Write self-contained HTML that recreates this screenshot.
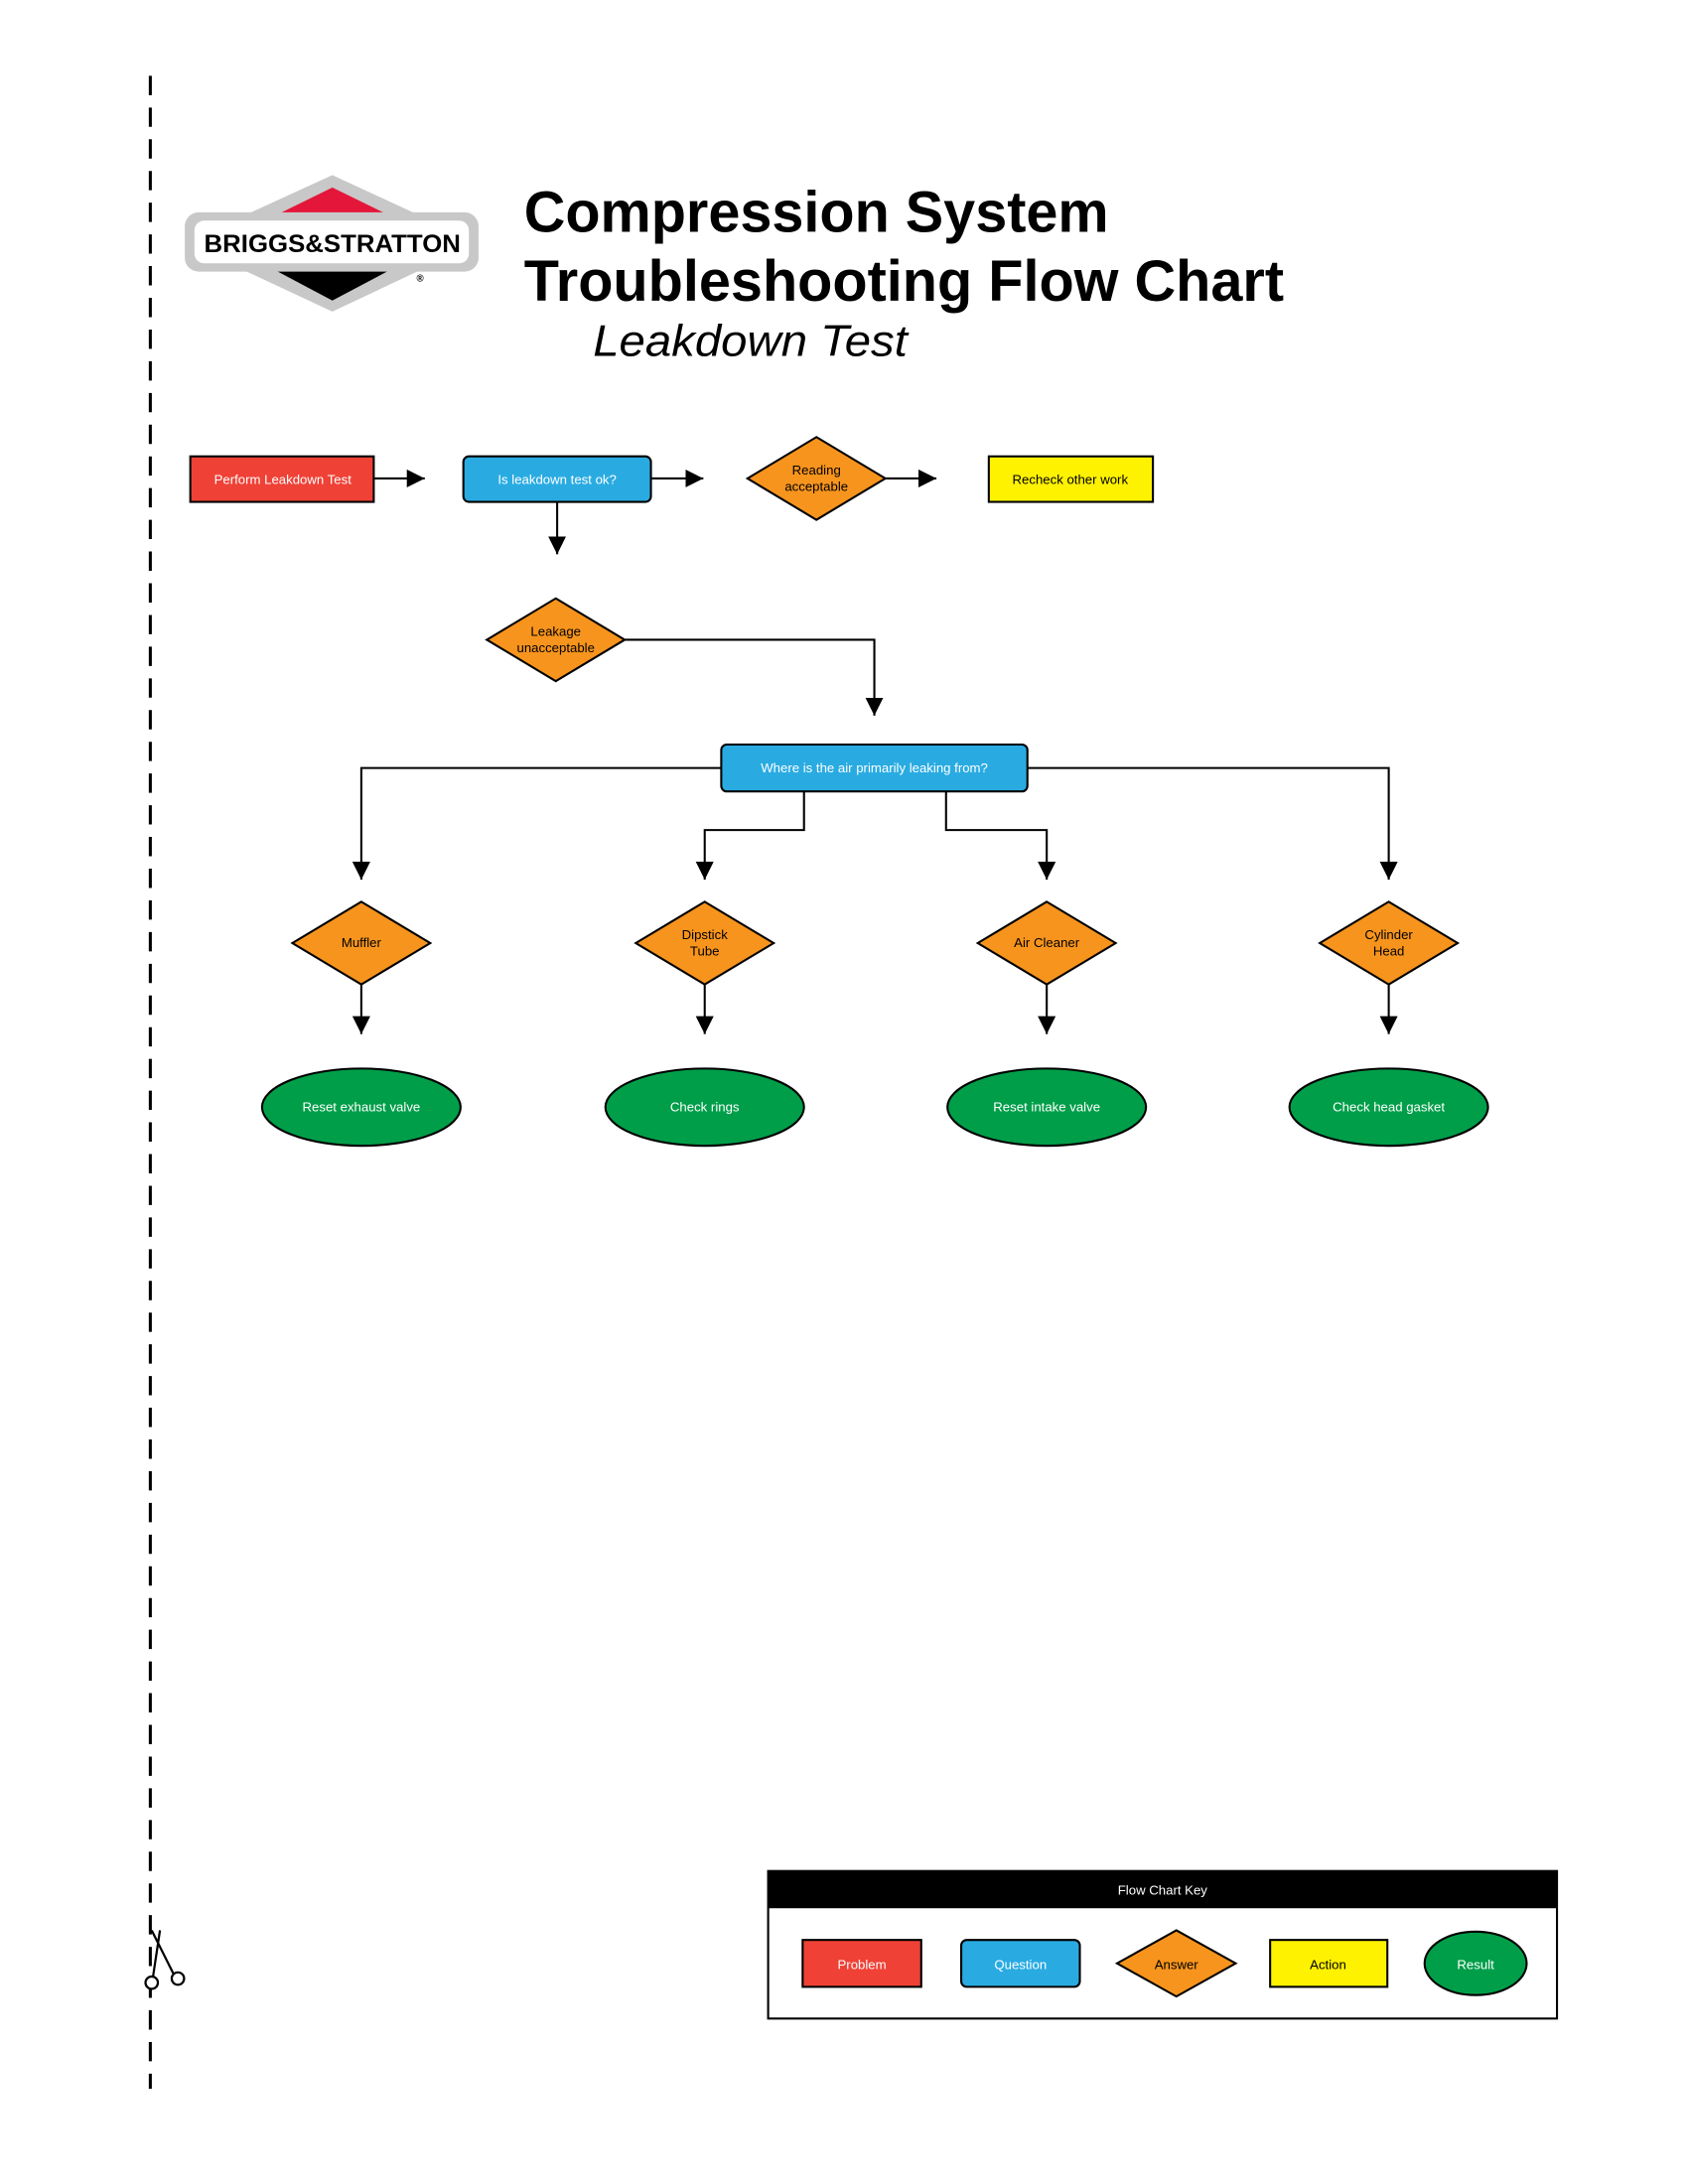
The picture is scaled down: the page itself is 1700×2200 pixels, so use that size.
<!DOCTYPE html>
<html><head><meta charset="utf-8"><style>html,body{margin:0;padding:0;background:#fff}svg{display:block}</style></head>
<body>
<svg width="1700" height="2200" viewBox="0 0 1224 1584" xmlns="http://www.w3.org/2000/svg" font-family="Liberation Sans, sans-serif">
<defs><marker id="a" viewBox="0 0 10 10" refX="10" refY="5" markerWidth="6" markerHeight="6" orient="auto" markerUnits="userSpaceOnUse"><path d="M0,0L10,5L0,10z" fill="#000"/></marker>
<marker id="b" viewBox="0 0 10 10" refX="10" refY="5" markerWidth="13" markerHeight="13" orient="auto" markerUnits="userSpaceOnUse"><path d="M0,0L10,5L0,10z" fill="#000"/></marker></defs>
<line x1="109" y1="55" x2="109" y2="1515" stroke="#000" stroke-width="2.2" stroke-dasharray="14,9"/>
<g transform="translate(120,1420)" stroke="#000" stroke-width="1.6" fill="none"><line x1="-10" y1="-20" x2="6" y2="12"/><line x1="-10" y1="20" x2="-4" y2="-20"/><circle cx="9" cy="15" r="4.5" fill="#fff"/><circle cx="-10" cy="18" r="4.5" fill="#fff"/></g>
<!-- logo -->
<polygon points="241,127 347,176 241,226 134,176" fill="#c8c8c8"/>
<polygon points="241,136 290,160 192,160" fill="#e4163a"/>
<polygon points="241,218 290,192 192,192" fill="#000"/>
<rect x="134" y="154" width="213" height="43" rx="10" fill="#c8c8c8"/>
<rect x="141" y="160" width="199" height="31" rx="7" fill="#fff"/>
<text x="241" y="183" font-size="18" font-weight="bold" text-anchor="middle" textLength="186" lengthAdjust="spacingAndGlyphs">BRIGGS&amp;STRATTON</text>
<text x="302" y="204" font-size="7" font-weight="bold">®</text>
<text x="380" y="168" font-size="42" font-weight="bold" textLength="424" lengthAdjust="spacingAndGlyphs">Compression System</text>
<text x="380" y="218" font-size="42" font-weight="bold" textLength="551" lengthAdjust="spacingAndGlyphs">Troubleshooting Flow Chart</text>
<text x="430" y="258" font-size="32" font-style="italic" textLength="228" lengthAdjust="spacingAndGlyphs">Leakdown Test</text>
<g stroke="#000" stroke-width="1.5" font-size="9.5">
<rect x="138" y="331" width="133" height="33" fill="#ef4136"/>
<rect x="336" y="331" width="136" height="33" rx="4" fill="#29abe2"/>
<polygon points="592,317 642,347 592,377 542,347" fill="#f7941d"/>
<rect x="717" y="331" width="119" height="33" fill="#fff200"/>
<polygon points="403,434 453,464 403,494 353,464" fill="#f7941d"/>
<rect x="523" y="540" width="222" height="34" rx="4" fill="#29abe2"/>
<g fill="none" marker-end="url(#b)">
<line x1="271" y1="347" x2="308" y2="347"/><line x1="472" y1="347" x2="510" y2="347"/><line x1="642" y1="347" x2="679" y2="347"/>
<line x1="404" y1="364" x2="404" y2="402"/>
<polyline points="453,464 634,464 634,519"/>
<polyline points="523,557 262,557 262,638"/>
<polyline points="583,574 583,602 511,602 511,638"/>
<polyline points="686,574 686,602 759,602 759,638"/>
<polyline points="745,557 1007,557 1007,638"/>
<line x1="262" y1="714" x2="262" y2="750"/><line x1="511" y1="714" x2="511" y2="750"/><line x1="759" y1="714" x2="759" y2="750"/><line x1="1007" y1="714" x2="1007" y2="750"/>
</g>
<g fill="#f7941d">
<polygon points="262,654 312,684 262,714 212,684"/><polygon points="511,654 561,684 511,714 461,684"/><polygon points="759,654 809,684 759,714 709,684"/><polygon points="1007,654 1057,684 1007,714 957,684"/>
</g>
<g fill="#009e49">
<ellipse cx="262" cy="803" rx="72" ry="28"/><ellipse cx="511" cy="803" rx="72" ry="28"/><ellipse cx="759" cy="803" rx="72" ry="28"/><ellipse cx="1007" cy="803" rx="72" ry="28"/>
</g>
</g>
<g font-size="9.5" text-anchor="middle">
<text x="205" y="351" fill="#fff">Perform Leakdown Test</text>
<text x="404" y="351" fill="#fff">Is leakdown test ok?</text>
<text x="592" y="344">Reading</text><text x="592" y="356">acceptable</text>
<text x="776" y="351">Recheck other work</text>
<text x="403" y="461">Leakage</text><text x="403" y="473">unacceptable</text>
<text x="634" y="560" fill="#fff">Where is the air primarily leaking from?</text>
<text x="262" y="687">Muffler</text>
<text x="511" y="681">Dipstick</text><text x="511" y="693">Tube</text>
<text x="759" y="687">Air Cleaner</text>
<text x="1007" y="681">Cylinder</text><text x="1007" y="693">Head</text>
<g fill="#fff"><text x="262" y="806">Reset exhaust valve</text><text x="511" y="806">Check rings</text><text x="759" y="806">Reset intake valve</text><text x="1007" y="806">Check head gasket</text></g>
</g>
<!-- key -->
<rect x="557" y="1357" width="572" height="107" fill="#fff" stroke="#000" stroke-width="1.5"/>
<rect x="557" y="1357" width="572" height="27" fill="#000"/>
<text x="843" y="1374" font-size="9.5" fill="#fff" text-anchor="middle">Flow Chart Key</text>
<g stroke="#000" stroke-width="1.5">
<rect x="582" y="1407" width="86" height="34" fill="#ef4136"/>
<rect x="697" y="1407" width="86" height="34" rx="4" fill="#29abe2"/>
<polygon points="853,1400 896,1424 853,1448 810,1424" fill="#f7941d"/>
<rect x="921" y="1407" width="85" height="34" fill="#fff200"/>
<ellipse cx="1070" cy="1424" rx="37" ry="23" fill="#009e49"/>
</g>
<g font-size="9.5" text-anchor="middle">
<text x="625" y="1428" fill="#fff">Problem</text><text x="740" y="1428" fill="#fff">Question</text><text x="853" y="1428">Answer</text><text x="963" y="1428">Action</text><text x="1070" y="1428" fill="#fff">Result</text>
</g>
</svg>
</body></html>
